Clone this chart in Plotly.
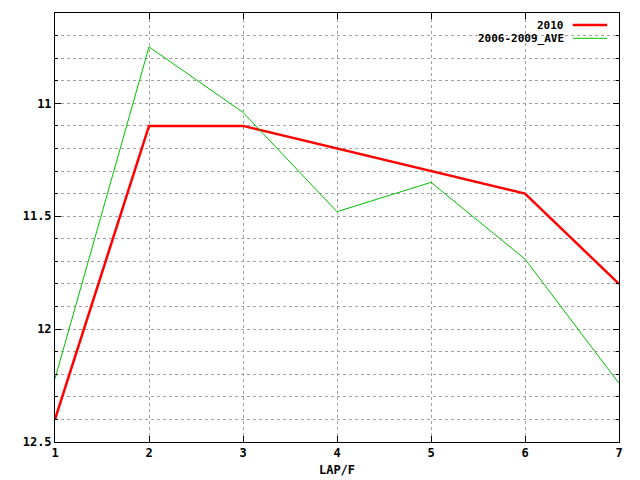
import plotly.graph_objects as go

laps = [1, 2, 3, 4, 5, 6, 7]
s2010 = [12.4, 11.1, 11.1, 11.2, 11.3, 11.4, 11.8]
ave = [12.22, 10.75, 11.04, 11.48, 11.35, 11.69, 12.24]
names = ["2010", "2006-2009_AVE"]
colors = ["#ff0000", "#00c000"]
widths = [2.5, 1]

FONT = dict(family="DejaVu Sans Mono", size=12, color="black")
LFONT = dict(family="DejaVu Sans Mono", size=11, color="black")

fig = go.Figure()
for y, n, c, w in zip([s2010, ave], names, colors, widths):
    fig.add_trace(go.Scatter(x=laps, y=y, mode="lines", name=n,
                             line=dict(color=c, width=w), showlegend=False))

# legend (gnuplot style: text right, sample line right of it)
for i, (n, c, w) in enumerate(zip(names, colors, widths)):
    yp = 0.972 - i * 0.031
    fig.add_annotation(x=0.905, y=yp, xref="paper", yref="paper", text="<b>%s</b>" % n,
                       showarrow=False, xanchor="right", yanchor="middle", font=LFONT,
                       borderpad=0)
    fig.add_shape(type="line", xref="paper", yref="paper", x0=0.918, x1=0.979,
                  y0=yp, y1=yp, line=dict(color=c, width=w))

axis_common = dict(showline=True, linecolor="black", linewidth=1, mirror="ticks",
                   ticks="inside", ticklen=6, tickcolor="black",
                   showgrid=True, gridcolor="#a0a0a0", griddash="3px,3px", gridwidth=1,
                   zeroline=False, tickfont=dict(family="DejaVu Sans Mono", size=12, color="black"))

fig.update_xaxes(range=[1, 7], tickvals=laps,
                 ticktext=["<b>%d</b>" % v for v in laps],
                 title=dict(text="<b>LAP/F</b>", font=FONT, standoff=6), **axis_common)
yt = [11, 11.5, 12, 12.5]
fig.update_yaxes(range=[12.5, 10.6], tickvals=yt, ticktext=["<b>%g</b>" % v for v in yt],
                 minor=dict(dtick=0.1, tick0=10.6, ticks="inside", ticklen=3, tickcolor="black",
                            showgrid=True, gridcolor="#a0a0a0", griddash="3px,3px"),
                 **axis_common)

fig.update_layout(width=640, height=480, plot_bgcolor="white", paper_bgcolor="white",
                  margin=dict(l=47, r=29, t=5, b=46), font=FONT)
fig.write_html("out.html")
